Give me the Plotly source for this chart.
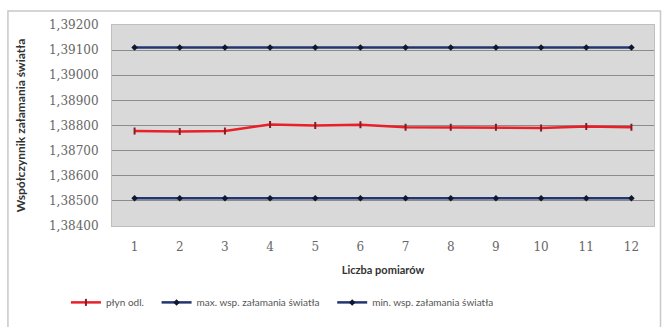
import plotly.graph_objects as go

pomiary = list(range(1, 13))
plyn_odl = [1.38778, 1.38776, 1.38778, 1.38804, 1.38800, 1.38803,
            1.38793, 1.38793, 1.38793, 1.38790, 1.38796, 1.38793]
max_wsp = [1.39110] * 12
min_wsp = [1.38510] * 12

labels = ["płyn odl.", "max. wsp. załamania światła", "min. wsp. załamania światła"]
y_ticks = [1.384, 1.385, 1.386, 1.387, 1.388, 1.389, 1.390, 1.391, 1.392]

pad = "\u00a0" * 3

fig = go.Figure()
fig.add_trace(go.Scatter(
    x=pomiary, y=plyn_odl, name=labels[0] + pad, mode="lines+markers",
    line=dict(color="#e8202a", width=2.5),
    marker=dict(symbol="line-ns", size=5, line=dict(color="#8a1a20", width=2)),
))
fig.add_trace(go.Scatter(
    x=pomiary, y=max_wsp, name=labels[1] + pad, mode="lines+markers",
    line=dict(color="#223770", width=2.5),
    marker=dict(symbol="diamond", size=5, color="#0f1830"),
))
fig.add_trace(go.Scatter(
    x=pomiary, y=min_wsp, name=labels[2], mode="lines+markers",
    line=dict(color="#223770", width=2.5),
    marker=dict(symbol="diamond", size=5, color="#0f1830"),
))

fig.update_layout(
    width=664, height=327,
    margin=dict(l=112, r=10, t=25, b=99),
    paper_bgcolor="white", plot_bgcolor="#d9d9d9",
    separators=", ",
    font=dict(family="Lato", size=10, color="#333333"),
    showlegend=True,
    legend=dict(orientation="h", x=-0.085, xanchor="left", y=-0.38, yanchor="middle",
                font=dict(family="Lato", size=10, color="#555555"),
                itemwidth=30, tracegroupgap=0),
    shapes=[dict(type="rect", xref="paper", yref="paper",
                 x0=-0.192, x1=1.012, y0=-0.6, y1=1.07,
                 line=dict(color="#c8c8c8", width=1.5), layer="below")],
)
fig.update_xaxes(
    range=[0.5, 12.5], tickmode="array", tickvals=pomiary,
    ticks="", showgrid=False, zeroline=False,
    showline=True, linecolor="#bfbfbf", mirror=True,
    ticklabelstandoff=10,
    tickfont=dict(family="DejaVu Serif", size=12, color="#666666"),
    title=dict(text="<b>Liczba pomiarów</b>", font=dict(family="Lato", size=11, color="#333333"),
               standoff=12),
)
fig.update_yaxes(
    range=[1.384, 1.392], tickmode="array", tickvals=y_ticks, tickformat=".5f",
    ticks="", showgrid=True, gridcolor="#8c8c8c", gridwidth=1, zeroline=False,
    showline=True, linecolor="#bfbfbf", mirror=True,
    ticklabelstandoff=10,
    tickfont=dict(family="DejaVu Serif", size=12, color="#666666"),
    title=dict(text="<b>Współczynnik załamania światła</b>",
               font=dict(family="Lato", size=12, color="#333333"), standoff=20),
)

fig.write_html("out.html")
